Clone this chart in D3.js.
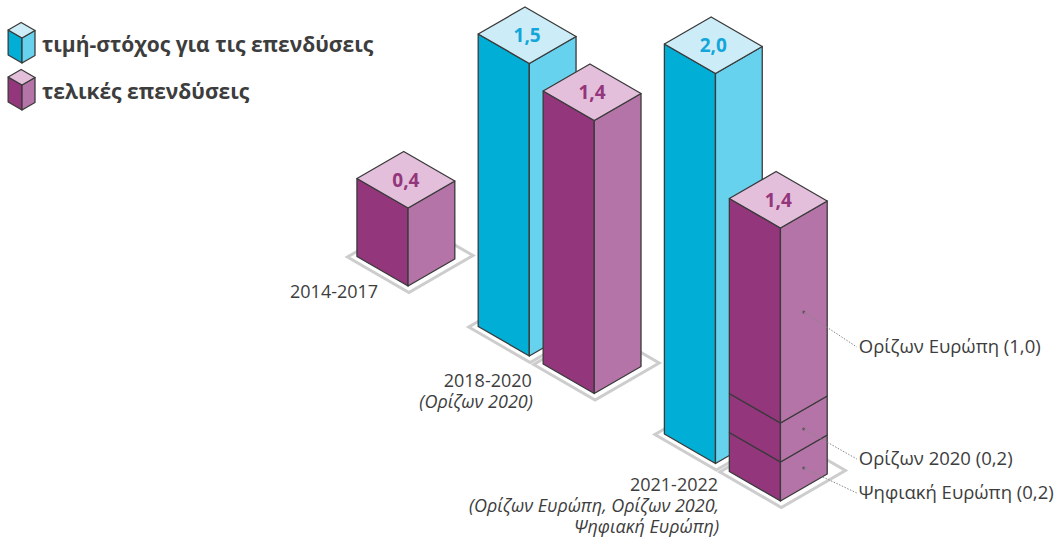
<!DOCTYPE html>
<html>
<head>
<meta charset="utf-8">
<script src="https://cdn.jsdelivr.net/npm/d3@7"></script>
<style>
  body { margin: 0; background: #fff; }
  svg { display: block; font-family: 'Open Sans', sans-serif; }
</style>
</head>
<body>
<div id="chart"></div>
<script>
// data
const groups = ['2014-2017', '2018-2020', '2021-2022'];
const groupNotes = [[], ['(Ορίζων 2020)'], ['(Ορίζων Ευρώπη, Ορίζων 2020,', 'Ψηφιακή Ευρώπη)']];
const series = ['target', 'actual'];
const seriesNames = ['τιμή-στόχος για τις επενδύσεις', 'τελικές επενδύσεις'];
const targetValues = [null, 1.5, 2.0];
const actualValues = [0.4, 1.4, 1.4];
const splitNames = ['Ψηφιακή Ευρώπη (0,2)', 'Ορίζων 2020 (0,2)', 'Ορίζων Ευρώπη (1,0)'];
const splitValues = [0.2, 0.2, 1.0]; // 2021-2022 actual, bottom to top

const width = 1059;
const height = 544;

const colors = {
  target: { side: '#00aed6', right: '#67d2ee', top: '#ccedf8', text: '#12a6da' },
  actual: { side: '#93367c', right: '#b574a8', top: '#e3bfdb', text: '#93367c' },
};
const textColor = '#3d3d3d';

const c30 = Math.cos(Math.PI / 6);
const origin = [292, 219];
const proj = (o) => (u, v, z) => [o[0] + (u + v) * c30, o[1] + (u - v) * 0.5 - z];
const p = proj(origin);

// scales along the row axis (u), bar depth (v) and height (z)
const uGroup = d3.scaleBand().domain(groups).range([0, 564]).paddingInner(81 / 215).paddingOuter(0);
const uSeries = d3.scaleBand().domain(series).range([0, uGroup.bandwidth()]).paddingInner(16 / 75);
const zScale = d3.scaleLinear().domain([0, 2]).range([0, 390]);
const depth = 54;

const svg = d3.select('#chart').append('svg').attr('width', width).attr('height', height);
const line = d3.line();

function box(g, pr, u0, u1, v0, v1, z0, z1, col, withTop) {
  const faces = [
    { pts: [[u0, v0, z0], [u1, v0, z0], [u1, v0, z1], [u0, v0, z1]], fill: col.side },
    { pts: [[u1, v0, z0], [u1, v1, z0], [u1, v1, z1], [u1, v0, z1]], fill: col.right },
  ];
  if (withTop) faces.push({ pts: [[u0, v0, z1], [u1, v0, z1], [u1, v1, z1], [u0, v1, z1]], fill: col.top });
  g.selectAll(null)
    .data(faces)
    .enter()
    .append('path')
    .attr('d', (d) => line(d.pts.map((q) => pr(...q))) + 'Z')
    .attr('fill', (d) => d.fill)
    .attr('stroke', '#3a3a3a')
    .attr('stroke-width', 1.3)
    .attr('stroke-linejoin', 'round');
}

// bars list
const bars = [];
groups.forEach((g, i) => {
  [targetValues[i], actualValues[i]].forEach((val, j) => {
    if (val == null) return;
    const u0 = uGroup(g) + uSeries(series[j]);
    bars.push({ group: g, gi: i, s: series[j], value: val, u0: u0, u1: u0 + uSeries.bandwidth() });
  });
});

// floor plates
const plates = svg.append('g');
bars.forEach((b) => {
  const pts = [[b.u0 - 5, -6], [b.u1 + 7, -6], [b.u1 + 7, depth + 14], [b.u0 - 5, depth + 14]];
  plates.append('path')
    .attr('d', line(pts.map((q) => p(q[0], q[1], 0))) + 'Z')
    .attr('fill', 'none')
    .attr('stroke', '#cdcdcd')
    .attr('stroke-width', 3)
    .attr('stroke-linejoin', 'miter');
});

// group labels at middle of the front-left plate edge
groups.forEach((g, i) => {
  const gb = bars.filter((b) => b.gi === i);
  const a = p(gb[0].u0 - 5, -6, 0);
  const b = p(gb[gb.length - 1].u1 + 7, -6, 0);
  const mx = (a[0] + b[0]) / 2;
  const my = (a[1] + b[1]) / 2;
  const t = svg.append('text')
    .attr('x', mx)
    .attr('y', my + (i === 2 ? 20 : 23))
    .attr('text-anchor', 'end')
    .attr('font-size', 18)
    .attr('fill', textColor);
  t.append('tspan').attr('x', mx).text(g);
  groupNotes[i].forEach((n) => {
    t.append('tspan').attr('x', mx + 1).attr('dy', 21).attr('font-style', 'italic').text(n);
  });
});

// bars
bars.forEach((b) => {
  const g = svg.append('g');
  const col = colors[b.s];
  if (b.s === 'actual' && b.gi === 2) {
    let base = 0;
    splitValues.forEach((v, k) => {
      box(g, p, b.u0, b.u1, 0, depth, zScale(base), zScale(base + v), col, k === splitValues.length - 1);
      base += v;
    });
  } else {
    box(g, p, b.u0, b.u1, 0, depth, 0, zScale(b.value), col, true);
  }
  const c = p((b.u0 + b.u1) / 2, depth / 2, zScale(b.value));
  g.append('text')
    .attr('x', c[0])
    .attr('y', c[1])
    .attr('dy', '0.36em')
    .attr('text-anchor', 'middle')
    .attr('font-size', 19)
    .attr('font-weight', 700)
    .attr('fill', col.text)
    .text(d3.format('.1f')(b.value).replace('.', ','));
});

// callouts for the split bar
const split = bars.find((b) => b.s === 'actual' && b.gi === 2);
const calloutDrop = [25, 30, 35];
let acc = 0;
splitValues.forEach((v, k) => {
  const dot = p(split.u1, depth / 2, zScale(acc + v / 2));
  acc += v;
  const end = [dot[0] + 53, dot[1] + calloutDrop[k]];
  svg.append('circle').attr('cx', dot[0]).attr('cy', dot[1]).attr('r', 1.5).attr('fill', '#555');
  svg.append('line')
    .attr('x1', dot[0]).attr('y1', dot[1])
    .attr('x2', end[0]).attr('y2', end[1])
    .attr('stroke', '#888')
    .attr('stroke-width', 1)
    .attr('stroke-dasharray', '1.5,1.5');
  svg.append('text')
    .attr('x', end[0] + 2)
    .attr('y', end[1])
    .attr('dy', '0.35em')
    .attr('font-size', 18.5)
    .attr('fill', textColor)
    .text(splitNames[k]);
});

// legend
series.forEach((s, i) => {
  const lp = proj([22 - 16 * c30, 63 + i * 47 - 8]);
  const lg = svg.append('g');
  box(lg, lp, 0, 16, 0, 15, 0, 25, colors[s], true);
  svg.append('text')
    .attr('x', 42)
    .attr('y', 52 + i * 47)
    .attr('font-size', 21)
    .attr('font-weight', 700)
    .attr('fill', textColor)
    .text(seriesNames[i]);
});
</script>
</body>
</html>
